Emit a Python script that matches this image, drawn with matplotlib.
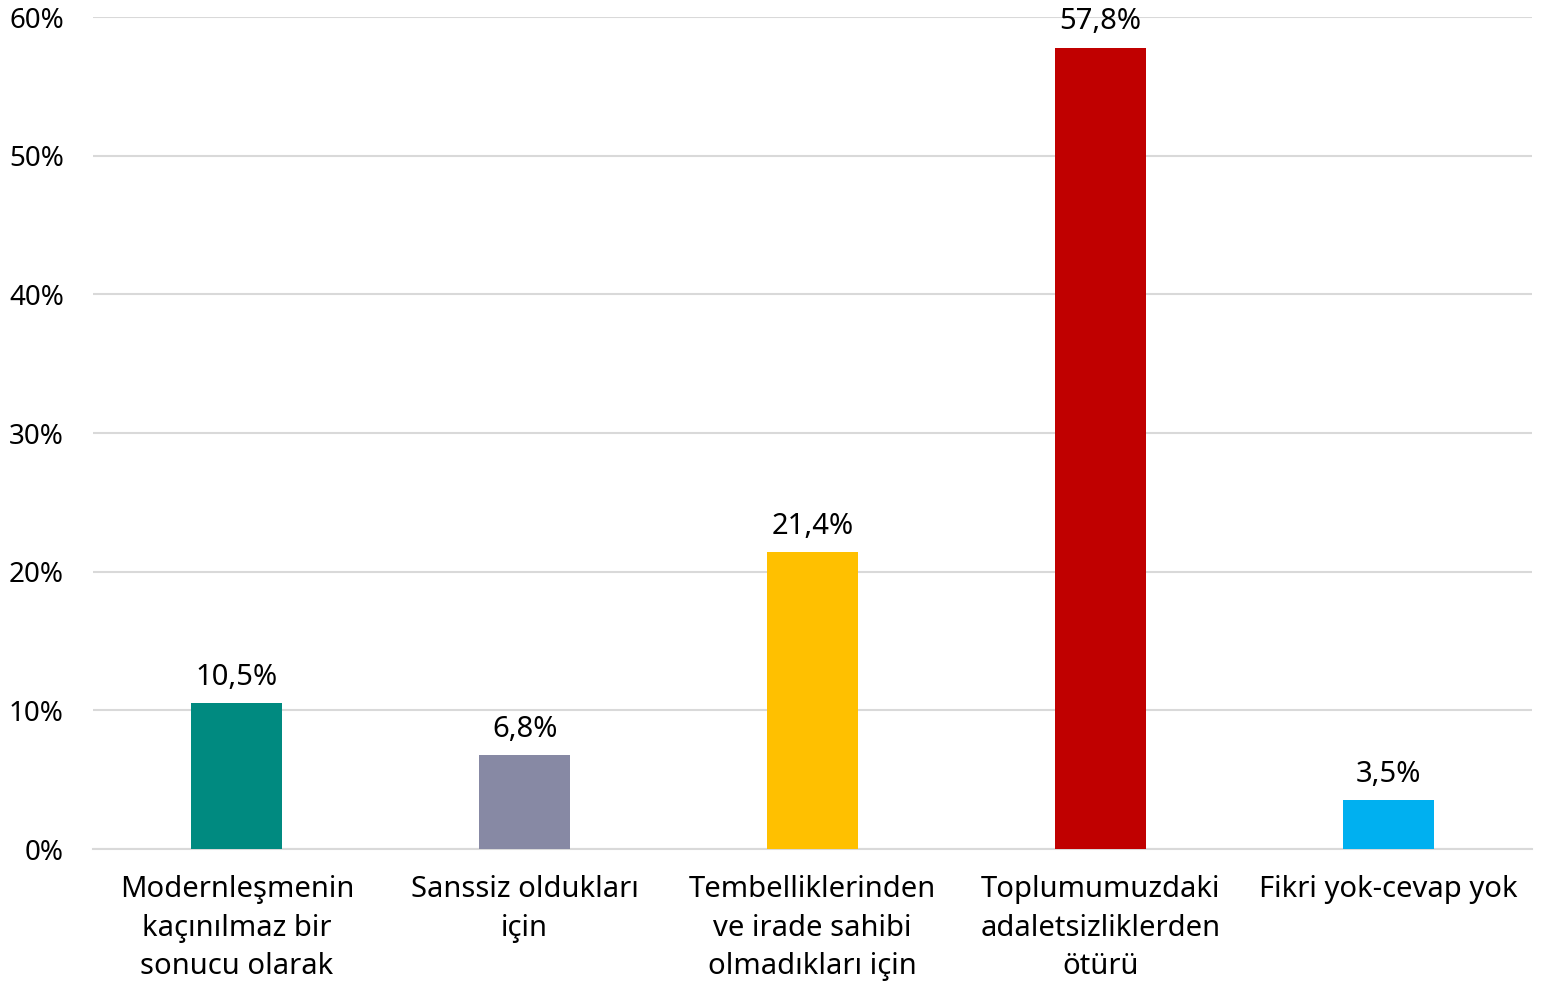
import matplotlib
matplotlib.use('Agg')
import matplotlib.pyplot as plt

categories = [
    'Modernleşmenin\nkaçınılmaz bir\nsonucu olarak',
    'Sanssiz oldukları\niçin',
    'Tembelliklerinden\nve irade sahibi\nolmadıkları için',
    'Toplumumuzdaki\nadaletsizliklerden\nötürü',
    'Fikri yok-cevap yok',
]
values = [10.5, 6.8, 21.4, 57.8, 3.5]
colors = ['#008A80', '#8789A4', '#FFC000', '#C00000', '#00B0F0']
yticks = [0, 10, 20, 30, 40, 50, 60]

plt.rcParams['font.family'] = ['Noto Sans', 'DejaVu Sans']

fig = plt.figure(figsize=(15.41, 9.83), dpi=100)
ax = fig.add_axes([0.0603, 0.1363, 0.9339, 0.8464])

x = list(range(len(categories)))
ax.bar(x, values, width=0.316, color=colors, zorder=3)
for xi, v in zip(x, values):
    ax.text(xi, v + 0.8, ('%.1f%%' % v).replace('.', ','), ha='center', va='bottom',
            fontsize=21, zorder=4)

ax.set_xlim(-0.5, len(categories) - 0.5)
ax.set_ylim(0, 60)
ax.set_yticks(yticks)
ax.set_yticklabels(['%d%%' % t for t in yticks], fontsize=20)
ax.set_xticks(x)
ax.set_xticklabels(categories, fontsize=21, linespacing=1.42)
ax.tick_params(axis='both', length=0)
ax.tick_params(axis='x', pad=19)
ax.tick_params(axis='y', pad=21)
ax.grid(axis='y', color='#d9d9d9', linewidth=1.5, zorder=0)
for s in ['top', 'right', 'left']:
    ax.spines[s].set_visible(False)
ax.spines['bottom'].set_color('#d9d9d9')
ax.spines['bottom'].set_linewidth(1.5)

fig.savefig('out.png', dpi=100)
